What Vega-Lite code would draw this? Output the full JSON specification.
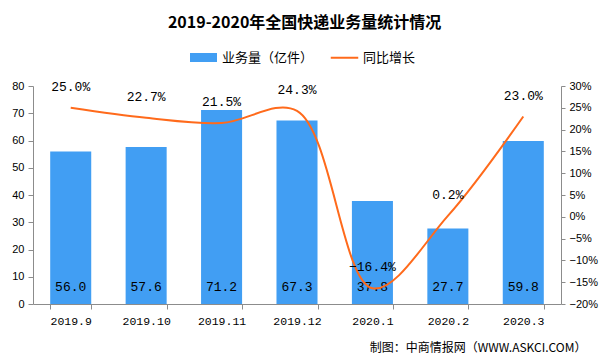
{
  "$schema": "https://vega.github.io/schema/vega-lite/v6.json",
  "width": 528,
  "height": 218,
  "autosize": {"type": "none"},
  "padding": {"left": 33, "top": 86, "right": 45, "bottom": 59},
  "background": "white",
  "title": {
    "text": "2019-2020年全国快递业务量统计情况",
    "font": "Noto Sans CJK SC",
    "fontSize": 16,
    "fontWeight": "bold",
    "color": "#000000",
    "anchor": "middle",
    "frame": "bounds",
    "offset": 13
  },
  "data": {
    "values": [
      {"month": "2019.9", "volume": 56.0, "growth": 0.25},
      {"month": "2019.10", "volume": 57.6, "growth": 0.227},
      {"month": "2019.11", "volume": 71.2, "growth": 0.215},
      {"month": "2019.12", "volume": 67.3, "growth": 0.243},
      {"month": "2020.1", "volume": 37.8, "growth": -0.164},
      {"month": "2020.2", "volume": 27.7, "growth": 0.002},
      {"month": "2020.3", "volume": 59.8, "growth": 0.23}
    ]
  },
  "config": {
    "view": {"stroke": null},
    "axis": {"domainColor": "#8c8c8c", "tickColor": "#8c8c8c", "grid": false, "labelColor": "#000000", "labelOverlap": false}
  },
  "layer": [
    {
      "layer": [
        {
          "mark": {"type": "bar", "color": "#419ef3"},
          "encoding": {
            "x": {
              "field": "month",
              "type": "ordinal",
              "sort": null,
              "scale": {"paddingInner": 0.456, "paddingOuter": 0.228},
              "axis": {
                "labelAngle": 0,
                "tickBand": "extent",
                "tickSize": 5,
                "labelFont": "Liberation Mono",
                "labelFontSize": 11.5,
                "labelPadding": 6,
                "title": "制图：中商情报网（WWW.ASKCI.COM）",
                "titleFont": "Noto Sans CJK SC",
                "titleFontSize": 12,
                "titleFontWeight": "normal",
                "titleColor": "#000000",
                "titleAnchor": "end",
                "titleAlign": "right",
                "titleBaseline": "middle",
                "titleX": 553,
                "titleY": 43
              }
            },
            "y": {
              "field": "volume",
              "type": "quantitative",
              "scale": {"domain": [0, 80], "nice": false},
              "axis": {
                "title": null,
                "values": [0, 10, 20, 30, 40, 50, 60, 70, 80],
                "labelOverlap": false,
                "tickCount": 9,
                "tickSize": 5,
                "labelPadding": 4,
                "labelFont": "Liberation Sans",
                "labelFontSize": 11
              }
            },
            "color": {
              "datum": "业务量（亿件）",
              "type": "nominal",
              "scale": {"domain": ["业务量（亿件）", "同比增长"], "range": ["#419ef3", "#ff6a1b"]},
              "legend": {
                "orient": "none",
                "legendX": 157,
                "legendY": -42,
                "direction": "horizontal",
                "title": null,
                "labelFont": "Noto Sans CJK SC",
                "labelFontSize": 13,
                "labelColor": "#000000",
                "symbolSize": 625,
                "labelOffset": 5,
                "columnPadding": 12,
                "padding": 0,
                "encode": {
                  "symbols": {
                    "update": {
                      "shape": {"signal": "datum.value === '同比增长' ? 'M-1.1,0H1.1' : 'M-1,-0.28H1V0.28H-1Z'"},
                      "fill": {"signal": "datum.value === '同比增长' ? 'transparent' : '#419ef3'"},
                      "stroke": {"signal": "datum.value === '同比增长' ? '#ff6a1b' : 'transparent'"},
                      "strokeWidth": {"value": 2},
                      "opacity": {"value": 1}
                    }
                  }
                }
              }
            }
          }
        },
        {
          "mark": {"type": "text", "font": "Liberation Mono", "fontSize": 13, "dy": -17, "color": "#000000"},
          "encoding": {
            "x": {"field": "month", "type": "ordinal", "sort": null},
            "y": {"datum": 0, "type": "quantitative"},
            "text": {"field": "volume", "type": "quantitative", "format": ".1f"}
          }
        }
      ]
    },
    {
      "layer": [
        {
          "mark": {"type": "line", "interpolate": "catmull-rom", "strokeWidth": 2},
          "encoding": {
            "x": {"field": "month", "type": "ordinal", "sort": null},
            "y": {
              "field": "growth",
              "type": "quantitative",
              "scale": {"domain": [-0.2, 0.3], "nice": false},
              "axis": {
                "orient": "right",
                "title": null,
                "values": [-0.2, -0.15, -0.1, -0.05, 0, 0.05, 0.1, 0.15, 0.2, 0.25, 0.3],
                "labelOverlap": false,
                "tickCount": 11,
                "format": ".0%",
                "tickSize": 4,
                "labelPadding": 4,
                "labelFont": "Liberation Sans",
                "labelFontSize": 11
              }
            },
            "color": {"datum": "同比增长", "type": "nominal"}
          }
        },
        {
          "mark": {"type": "text", "font": "Liberation Mono", "fontSize": 13, "dy": -21, "color": "#000000"},
          "encoding": {
            "x": {"field": "month", "type": "ordinal", "sort": null},
            "y": {"field": "growth", "type": "quantitative"},
            "text": {"field": "growth", "type": "quantitative", "format": ".1%"}
          }
        }
      ]
    }
  ],
  "resolve": {"scale": {"y": "independent"}}
}
